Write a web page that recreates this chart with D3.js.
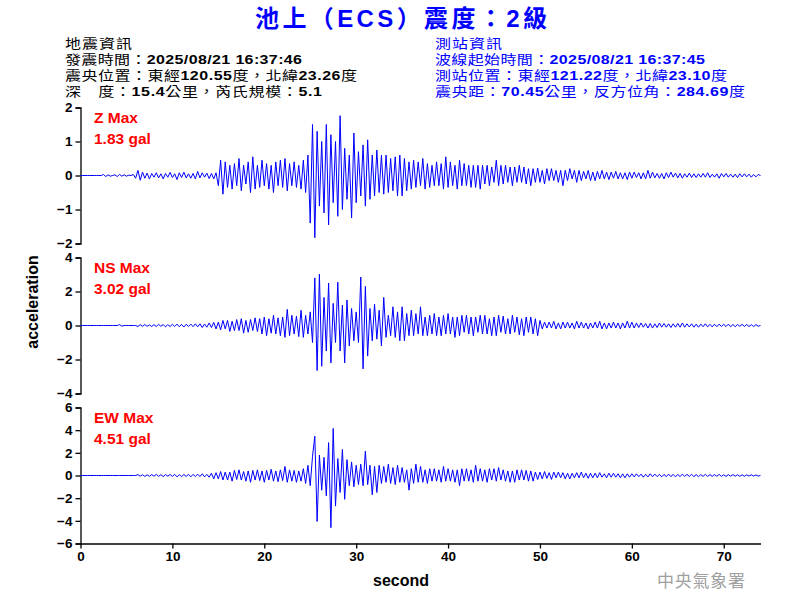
<!DOCTYPE html>
<html><head><meta charset="utf-8">
<script src="https://cdn.jsdelivr.net/npm/d3@7"></script>
<style>
html,body{margin:0;padding:0;background:#fff;}
svg{display:block;}
text{font-family:'Liberation Sans','Noto Sans CJK TC',sans-serif;}
</style></head>
<body><svg id="chart" width="800" height="600"></svg>
<script>
// ---------- DATA ----------
const titleText = "池上（ECS）震度：2級";
const quakeInfo = ["地震資訊","發震時間：2025/08/21 16:37:46","震央位置：東經120.55度，北緯23.26度","深　度：15.4公里，芮氏規模：5.1"];
const stationInfo = ["測站資訊","波線起始時間：2025/08/21 16:37:45","測站位置：東經121.22度，北緯23.10度","震央距：70.45公里，反方位角：284.69度"];
const componentNames = ["Z","NS","EW"];
const maxLabels = ["1.83 gal","3.02 gal","4.51 gal"];
const yTicksZ = [-2,-1,0,1,2];
const yTicksNS = [-4,-2,0,2,4];
const yTicksEW = [-6,-4,-2,0,2,4,6];
const xTicks = [0,10,20,30,40,50,60,70];
const timeMax = 74;
const sampleStep = 0.25; // seconds between the read-off samples

const traceZ = [
0,0,0,0, 0,0,0,0, 0,0,0.03,-0.03, 0.02,-0.02,0,0.02, -0.03,0.03,-0.02,0.02,
-0.02,0.01,0,0.03, -0.08,0.15,-0.14,0.1, -0.08,0.07,-0.1,0.06, -0.05,0.08,-0.07,0.05, -0.1,0.06,-0.05,0.09,
-0.06,0.05,-0.12,0.08, -0.06,0.1,-0.07,0.05, -0.08,0.06,-0.1,0.12, -0.07,0.08,-0.05,0.07, -0.09,0.06,-0.1,0.08,
-0.3,0.45,-0.55,0.4, -0.35,0.3,-0.4,0.35, -0.3,0.5,-0.45,0.3, -0.25,0.4,-0.5,0.55, -0.4,0.3,-0.35,0.45,
-0.3,0.35,-0.4,0.3, -0.5,0.4,-0.3,0.45, -0.35,0.5,-0.45,0.35, -0.3,0.4,-0.35,0.3, -0.4,0.45,-0.5,0.6,
-1.4,1.5,-1.83,1.3, -0.9,1.0,-1.1,1.5, -1.45,1.2,-0.8,1.0, -1.2,1.76,-1.0,0.8, -0.7,0.6,-1.25,1.25,
-0.8,0.7,-0.6,0.9, -0.9,1.05,-0.7,0.6, -0.6,0.75,-0.5,0.6, -0.55,0.6,-0.5,0.5, -0.45,0.55,-0.6,0.6,
-0.6,0.5,-0.45,0.4, -0.4,0.45,-0.35,0.4, -0.3,0.5,-0.4,0.35, -0.35,0.3,-0.3,0.4, -0.3,0.35,-0.4,0.55,
-0.35,0.4,-0.3,0.3, -0.4,0.45,-0.3,0.35, -0.3,0.3,-0.35,0.3, -0.35,0.3,-0.4,0.3, -0.25,0.3,-0.3,0.25,
-0.2,0.45,-0.3,0.3, -0.25,0.3,-0.2,0.25, -0.3,0.25,-0.2,0.3, -0.2,0.25,-0.25,0.2, -0.3,0.2,-0.2,0.22,
-0.2,0.15,-0.25,0.2, -0.15,0.2,-0.15,0.15, -0.2,0.15,-0.3,0.15, -0.15,0.2,-0.1,0.15, -0.2,0.15,-0.15,0.12,
-0.1,0.15,-0.15,0.1, -0.15,0.12,-0.1,0.15, -0.1,0.1,-0.12,0.1, -0.08,0.12,-0.1,0.08, -0.1,0.08,-0.12,0.1,
-0.08,0.1,-0.06,0.08, -0.1,0.08,-0.1,0.15, -0.08,0.1,-0.07,0.06, -0.08,0.06,-0.1,0.08, -0.06,0.1,-0.05,0.07,
-0.07,0.06,-0.08,0.05, -0.05,0.07,-0.06,0.05, -0.06,0.05,-0.05,0.06, -0.05,0.08,-0.06,0.04, -0.05,0.05,-0.08,0.06,
-0.04,0.06,-0.05,0.04, -0.05,0.04,-0.06,0.05, -0.04,0.05,-0.04,0.04, -0.05,0.03,-0.04,0.03
];

const traceNS = [
0,0,0,0, 0,0,0,0, 0,0,0,0, 0,0,0,0, 0,0.05,-0.04,0,
0,0,0,0, 0,-0.06,0.05,-0.05, 0.06,-0.05,0.04,-0.06, 0.05,-0.06,0.07,-0.05, 0.06,-0.08,0.05,-0.06,
0.07,-0.06,0.08,-0.07, 0.06,-0.09,0.07,-0.06, 0.08,-0.07,0.1,-0.08, 0.1,-0.12,0.09,-0.1, 0.15,-0.12,0.18,-0.2,
0.2,-0.25,0.3,-0.2, 0.3,-0.35,0.25,-0.3, 0.35,-0.3,0.4,-0.45, 0.3,-0.4,0.35,-0.3, 0.45,-0.35,0.4,-0.5,
0.5,-0.6,0.4,-0.45, 0.6,-0.5,0.45,-0.6, 0.5,-0.7,0.95,-0.6, 0.6,-0.5,0.55,-0.65, 0.9,-0.7,0.6,-0.5,
0.8,-1.0,2.8,-2.65, 3.02,-2.4,1.65,-1.5, 2.5,-2.2,1.3,-1.0, 2.55,-1.5,1.2,-2.2, 1.5,-1.2,1.0,-0.9,
0.8,-1.0,2.85,-2.55, 2.3,-1.8,1.0,-0.9, 1.25,-0.8,0.9,-1.2, 1.65,-0.7,0.6,-0.6, 1.1,-0.7,0.8,-0.9,
1.1,-0.9,0.7,-0.6, 0.9,-0.6,0.7,-0.5, 1.1,-0.6,0.5,-0.6, 0.6,-0.5,0.7,-0.6, 0.5,-0.6,0.6,-0.5,
0.7,-0.5,0.5,-0.7, 0.5,-0.6,0.6,-0.4, 0.6,-0.5,0.5,-0.6, 0.5,-0.4,0.6,-0.5, 0.6,-0.5,0.4,-0.6,
0.5,-0.6,0.6,-0.4, 0.55,-0.5,0.4,-0.5, 0.6,-0.4,0.5,-0.55, 0.4,-0.6,0.5,-0.4, 0.5,-0.5,0.4,-0.6,
0.3,-0.2,0.2,-0.15, 0.2,-0.15,0.25,-0.2, 0.15,-0.2,0.2,-0.15, 0.2,-0.15,0.15,-0.2, 0.25,-0.15,0.2,-0.15,
0.15,-0.2,0.15,-0.15, 0.2,-0.15,0.25,-0.2, 0.15,-0.2,0.15,-0.15, 0.2,-0.15,0.15,-0.2, 0.15,-0.15,0.25,-0.15,
0.2,-0.15,0.15,-0.12, 0.15,-0.1,0.12,-0.15, 0.12,-0.15,0.1,-0.12, 0.15,-0.1,0.12,-0.1, 0.1,-0.12,0.1,-0.1,
0.12,-0.1,0.15,-0.1, 0.1,-0.08,0.1,-0.1, 0.08,-0.1,0.08,-0.07, 0.1,-0.08,0.07,-0.08, 0.08,-0.07,0.08,-0.06,
0.07,-0.06,0.08,-0.07, 0.06,-0.07,0.06,-0.05, 0.07,-0.05,0.06,-0.06, 0.05,-0.06,0.05,-0.04
];

const traceEW = [
0,0,0,0, 0,0,0,0, 0,0,0,0, 0,0,0,0, 0,0,0,0,
0,0,0,0, 0,0.08,-0.06,0.07, -0.08,0.06,-0.07,0.08, -0.06,0.1,-0.08,0.07, -0.1,0.08,-0.06,0.09,
-0.08,0.1,-0.12,0.08, -0.1,0.09,-0.08,0.1, -0.12,0.1,-0.09,0.12, -0.1,0.15,-0.12,0.1, -0.15,0.2,-0.3,0.25,
-0.3,0.35,-0.4,0.3, -0.4,0.3,-0.5,0.45, -0.35,0.5,-0.4,0.35, -0.5,0.4,-0.6,0.45, -0.4,0.5,-0.45,0.4,
-0.6,0.45,-0.4,0.55, -0.5,0.4,-0.55,0.5, -0.45,0.8,-0.6,0.5, -0.5,0.45,-0.6,0.4, -0.5,0.6,-0.7,0.9,
-0.9,1.7,3.47,-4.06, 1.8,-1.3,1.6,-1.8, 2.9,-4.6,4.15,-2.7, 1.5,-1.5,2.3,-2.1, 1.4,-0.9,1.2,-1.0,
0.9,-0.8,1.0,-0.9, 2.15,-0.8,0.9,-1.7, 0.8,-1.5,0.9,-0.7, 0.8,-0.6,1.0,-0.7, 0.7,-0.8,0.9,-0.6,
0.7,-0.6,0.5,-1.3, 0.6,-0.7,1.0,-0.6, 0.8,-0.6,0.5,-0.7, 0.6,-0.5,0.6,-0.5, 0.5,-0.6,0.8,-0.5,
0.6,-0.5,0.5,-0.6, 0.5,-0.9,0.6,-0.5, 0.6,-0.5,0.5,-0.6, 0.9,-0.5,0.6,-0.5, 0.5,-0.6,0.6,-0.4,
0.6,-0.5,0.7,-0.4, 0.5,-0.5,0.4,-0.6, 0.4,-0.6,0.5,-0.4, 0.5,-0.4,0.45,-0.5, 0.4,-0.5,0.3,-0.35,
0.3,-0.3,0.35,-0.25, 0.25,-0.35,0.3,-0.2, 0.3,-0.2,0.25,-0.3, 0.2,-0.3,0.2,-0.2, 0.25,-0.2,0.3,-0.2,
0.2,-0.25,0.2,-0.2, 0.2,-0.2,0.25,-0.15, 0.15,-0.2,0.2,-0.15, 0.2,-0.15,0.15,-0.2, 0.15,-0.2,0.15,-0.15,
0.15,-0.12,0.15,-0.1, 0.12,-0.15,0.1,-0.12, 0.15,-0.1,0.12,-0.1, 0.1,-0.12,0.1,-0.1, 0.12,-0.1,0.1,-0.12,
0.1,-0.1,0.12,-0.08, 0.1,-0.08,0.1,-0.1, 0.08,-0.1,0.08,-0.08, 0.1,-0.08,0.08,-0.07, 0.08,-0.07,0.1,-0.08,
0.07,-0.08,0.07,-0.06, 0.08,-0.06,0.07,-0.07, 0.06,-0.07,0.06,-0.05, 0.06,-0.05,0.05,-0.05
];

// ---------- DRAW ----------
const svg = d3.select("#chart");
const plotLeft = 80.5, plotRight = 760.5;
const panelTops = [107.5, 257.5, 407.5];
const panelH = 136;

const panels = [
  {name: componentNames[0], max: maxLabels[0], data: traceZ, ticks: yTicksZ, lim: 2},
  {name: componentNames[1], max: maxLabels[1], data: traceNS, ticks: yTicksNS, lim: 4},
  {name: componentNames[2], max: maxLabels[2], data: traceEW, ticks: yTicksEW, lim: 6}
];

const x = d3.scaleLinear().domain([0, timeMax]).range([plotLeft, plotRight]);

function mixed(textSel, str, latinWeight, cjkWeight){
  const parts = str.match(/[\x00-\x7F]+|[^\x00-\x7F]+/g);
  parts.forEach(p=>{
    const latin = /^[\x00-\x7F]+$/.test(p);
    textSel.append("tspan").text(p)
      .attr("font-weight", latin ? latinWeight : cjkWeight)
      .attr("font-family", latin ? "'Liberation Sans',Arial,sans-serif" : "'Noto Sans CJK TC',sans-serif");
  });
}

// title
const tt = svg.append("text").attr("x", 401).attr("y", 27).attr("text-anchor","middle")
  .attr("font-size", 24).attr("fill","#0000ff")
  .attr("textLength", 292).attr("lengthAdjust","spacing");
mixed(tt, titleText, "bold", "bold");

// header blocks
const lineY = [48, 64, 80, 95.5];
const leftWidths = [67, 237, 292, 257];
const rightWidths = [67, 270, 292, 310];
function header(lines, x0, widths, color){
  lines.forEach((t,i)=>{
    const tx = svg.append("text")
      .attr("transform", `translate(${x0},${lineY[i]}) scale(1,0.8)`)
      .attr("font-size", 16).attr("fill", color)
      .attr("textLength", widths[i]).attr("lengthAdjust","spacing");
    mixed(tx, t, "bold", "normal");
  });
}
header(quakeInfo, 65, leftWidths, "#000");
header(stationInfo, 435, rightWidths, "#0000ff");

const line = d3.line();

panels.forEach((p, k)=>{
  const top = panelTops[k];
  const y = d3.scaleLinear().domain([-p.lim, p.lim]).range([top + panelH, top]);
  const g = svg.append("g");
  const ax = g.append("g").attr("transform", `translate(${plotLeft},0)`)
    .call(d3.axisLeft(y).tickValues(p.ticks).tickSize(5).tickPadding(3).tickFormat(d3.format("d")));
  ax.select(".domain").attr("stroke","#000").attr("stroke-width",1.3);
  ax.selectAll(".tick line").attr("stroke","#000").attr("stroke-width",1.3);
  ax.selectAll(".tick text").attr("font-size", 13.5).attr("font-weight","bold")
    .attr("fill","#000").attr("font-family","'Liberation Sans',Arial,sans-serif");

  const pts = p.data.map((v,i)=>[x(i*sampleStep), y(v)]);
  pts.push([x(timeMax), y(0)]);
  g.append("path").attr("d", line(pts)).attr("fill","none")
    .attr("stroke","#0000ff").attr("stroke-width",1);

  g.append("text").attr("x", 94).attr("y", top + 15.5).attr("font-size", 15.5)
    .attr("font-weight","bold").attr("fill","#ff0000").text(p.name + " Max");
  g.append("text").attr("x", 94).attr("y", top + 36).attr("font-size", 15.5)
    .attr("font-weight","bold").attr("fill","#ff0000").text(p.max);
});

// x axis
const xa = svg.append("g").attr("transform", `translate(0,${panelTops[2]+panelH})`)
  .call(d3.axisBottom(x).tickValues(xTicks).tickSize(5).tickPadding(3).tickSizeOuter(0));
xa.select(".domain").attr("stroke","#000").attr("stroke-width",1.3);
xa.selectAll(".tick line").attr("stroke","#000").attr("stroke-width",1.3);
xa.selectAll(".tick text").attr("font-size", 13.5).attr("font-weight","bold")
  .attr("fill","#000").attr("font-family","'Liberation Sans',Arial,sans-serif");

svg.append("text").attr("x", 401).attr("y", 586).attr("text-anchor","middle")
  .attr("font-size", 16).attr("font-weight","bold").attr("fill","#000").text("second");
svg.append("text").attr("transform","translate(38,302) rotate(-90)").attr("text-anchor","middle")
  .attr("font-size", 16).attr("font-weight","bold").attr("fill","#000").text("acceleration");

svg.append("text").attr("x", 657).attr("y", 587).attr("font-size", 17)
  .attr("fill","#a0a0a0").attr("font-family","'Noto Sans CJK TC',sans-serif")
  .attr("textLength", 88).attr("lengthAdjust","spacing").text("中央氣象署");
</script></body></html>
